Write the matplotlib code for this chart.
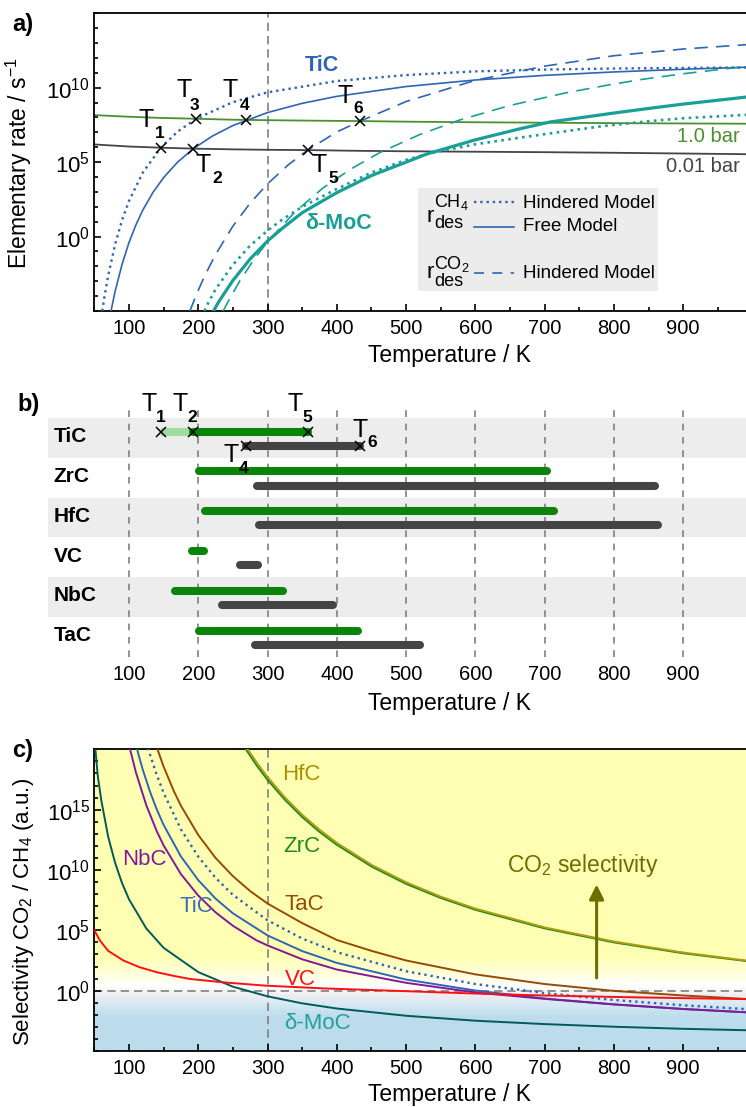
import matplotlib
matplotlib.use('Agg')
import matplotlib.pyplot as plt
import numpy as np
from matplotlib.colors import LinearSegmentedColormap
from matplotlib.ticker import FixedLocator, NullFormatter

plt.rcParams['font.family'] = ['Liberation Sans', 'DejaVu Sans']
plt.rcParams['mathtext.fontset'] = 'custom'
plt.rcParams['mathtext.rm'] = 'Liberation Sans'
plt.rcParams['mathtext.it'] = 'Liberation Sans:italic'
plt.rcParams['mathtext.bf'] = 'Liberation Sans:bold'
plt.rcParams['axes.linewidth'] = 1.3

# ---------------- panel a: elementary rates (log10 values) ----------------
gas_T = [50, 100, 146, 193, 250, 300, 358, 433, 500, 600, 700, 800, 900, 1000]
ads_1bar = [8.16, 8.05, 7.97, 7.92, 7.85, 7.82, 7.79, 7.76, 7.72, 7.68, 7.65, 7.62, 7.60, 7.58]
ads_001bar = [6.19, 6.05, 5.97, 5.91, 5.86, 5.83, 5.81, 5.76, 5.73, 5.70, 5.67, 5.63, 5.58, 5.53]

tic_free_T = [74, 80, 90, 100, 110, 120, 135, 150, 170, 193, 220, 250, 300, 350, 400, 500, 600, 700, 800, 900, 1000]
tic_free = [-5.02, -3.69, -1.87, -0.41, 0.78, 1.78, 2.99, 3.96, 4.99, 5.91, 6.74, 7.46, 8.33, 8.95, 9.42,
            10.08, 10.52, 10.83, 11.06, 11.24, 11.39]
tic_hind_T = [61.5, 65, 70, 80, 90, 100, 120, 146, 170, 197, 250, 300, 400, 500, 600, 700, 800, 900, 1000]
tic_hind = [-5.0, -3.94, -2.64, -0.53, 1.10, 2.39, 4.30, 5.97, 7.04, 7.92, 9.03, 9.69, 10.45, 10.85, 11.10,
            11.22, 11.29, 11.33, 11.36]
tic_co2_T = [188, 195, 200, 210, 225, 250, 275, 300, 330, 358, 400, 434, 500, 600, 700, 800, 900, 1000]
tic_co2 = [-5.0, -4.17, -3.61, -2.58, -1.21, 0.70, 2.25, 3.54, 4.82, 5.81, 7.03, 7.76, 9.07, 10.5, 11.45,
           12.15, 12.6, 12.92]

moc_free_T = [222, 230, 250, 275, 300, 320, 350, 400, 450, 500, 530, 600, 665, 708, 800, 852, 900, 1000]
moc_free = [-5.0, -4.35, -2.95, -1.5, -0.3, 0.5, 1.6, 2.95, 4.1, 5.0, 5.55, 6.5, 7.25, 7.7, 8.3, 8.62, 8.9, 9.42]
moc_hind_T = [209, 215, 225, 250, 275, 300, 320, 350, 400, 450, 500, 535, 600, 665, 700, 780, 850, 900, 1000]
moc_hind = [-5.0, -4.4, -3.55, -1.9, -0.6, 0.4, 1.1, 2.0, 3.2, 4.3, 5.15, 5.6, 6.2, 6.65, 6.88, 7.4, 7.75,
            7.95, 8.2]
moc_co2_T = [236, 245, 260, 280, 300, 340, 380, 420, 462, 520, 578, 650, 732, 800, 842, 900, 1000]
moc_co2 = [-5.0, -4.2, -2.98, -1.57, -0.35, 1.67, 3.26, 4.53, 5.64, 6.86, 7.84, 8.81, 9.67, 10.25, 10.57,
           10.94, 11.48]

cross_T = [146, 193, 197, 269, 358, 433]
cross_rate = [5.97, 5.91, 7.92, 7.84, 5.81, 7.76]
cross_name = ['1', '2', '3', '4', '5', '6']

# ---------------- panel b: temperature windows ----------------
carbides = ['TiC', 'ZrC', 'HfC', 'VC', 'NbC', 'TaC']
co2_start = [193, 201, 210, 191, 166, 201]
co2_end = [358, 703, 713, 208, 323, 430]
ch4_start = [269, 285, 287, 261, 234, 282]
ch4_end = [433, 859, 864, 286, 394, 520]
tic_weak_start = 146
tic_weak_end = 193

# ---------------- panel c: selectivity CO2/CH4 (log10 values) ----------------
hfc_T = [270, 285, 300, 325, 350, 375, 400, 450, 500, 550, 600, 700, 800, 900, 1000]
hfc_sel = [20.12, 18.85, 17.7, 16.02, 14.58, 13.34, 12.25, 10.43, 8.98, 7.79, 6.8, 5.24, 4.07, 3.16, 2.43]
zrc_T = [265, 285, 300, 325, 350, 375, 400, 450, 500, 550, 600, 700, 800, 900, 1000]
zrc_sel = [20.32, 18.61, 17.47, 15.82, 14.39, 13.16, 12.09, 10.29, 8.85, 7.68, 6.7, 5.16, 4.0, 3.1, 2.39]
tac_T = [140, 150, 165, 175, 200, 225, 250, 275, 300, 350, 400, 450, 500, 600, 700, 800, 900, 1000]
tac_sel = [20.19, 18.57, 16.51, 15.33, 12.9, 11.0, 9.49, 8.25, 7.22, 5.6, 4.2, 3.3, 2.5, 1.35, 0.55, -0.02,
           -0.4, -0.72]
tic_T = [110, 115, 120, 130, 140, 150, 175, 200, 225, 250, 300, 350, 400, 500, 600, 700, 800, 900, 1000]
tic_sel = [20.39, 19.31, 18.31, 16.55, 15.04, 13.74, 11.12, 9.16, 7.63, 6.41, 4.58, 3.28, 2.3, 0.92, 0.01,
           -0.65, -1.14, -1.52, -1.82]
tic_hsel_T = [125, 130, 140, 150, 175, 200, 225, 250, 300, 350, 400, 500, 600, 700, 800, 900, 1000]
tic_hsel = [20.61, 19.64, 17.9, 16.39, 13.37, 11.11, 9.35, 7.94, 5.83, 4.32, 3.19, 1.61, 0.55, -0.2, -0.77,
            -1.21, -1.56]
nbc_T = [100, 110, 125, 140, 150, 175, 200, 225, 250, 284, 300, 350, 400, 500, 600, 700, 800, 900, 1000]
nbc_sel = [20.37, 18.1, 15.37, 13.23, 12.04, 9.66, 7.88, 6.49, 5.38, 4.17, 3.75, 2.6, 1.75, 0.65, -0.15,
           -0.68, -1.14, -1.52, -1.82]
moc_T = [50, 55, 60, 70, 80, 90, 100, 125, 150, 200, 250, 300, 350, 400, 500, 600, 700, 800, 900, 1000]
moc_sel = [21.0, 17.8, 15.8, 12.76, 10.6, 8.92, 7.58, 5.16, 3.55, 1.54, 0.33, -0.47, -1.05, -1.48, -2.08,
           -2.49, -2.77, -2.99, -3.16, -3.29]
vc_T = [50, 58, 70, 92, 115, 140, 165, 188, 236, 296, 380, 477, 621, 700, 800, 900, 1000]
vc_sel = [5.0, 4.17, 3.3, 2.5, 1.95, 1.53, 1.22, 0.97, 0.69, 0.42, 0.19, 0.0, -0.28, -0.4, -0.52, -0.62, -0.71]

xticks = [100, 200, 300, 400, 500, 600, 700, 800, 900]

# colours
blue = '#2f65b3'
teal = '#1a9e98'
gas_green = '#4d8f2e'
gas_grey = '#444444'
bar_green = '#0a840a'
bar_grey = '#444444'
dash_grey = '#808080'

W_PX, H_PX = 746, 1107
fig = plt.figure(figsize=(W_PX / 100, H_PX / 100), dpi=100)
left = 94.3 / W_PX
width = 658.2 / W_PX


def lg(v):
    return 10.0 ** np.asarray(v, dtype=float)


def style_log_axis(ax, ylo, yhi, majors):
    ax.set_xlim(50, 1000)
    ax.set_yscale('log')
    ax.set_ylim(10.0 ** ylo, 10.0 ** yhi)
    ax.set_xticks(xticks)
    ax.set_xticks(np.arange(50, 1001, 50), minor=True)
    ax.yaxis.set_major_locator(FixedLocator([10.0 ** m for m in majors]))
    ax.yaxis.set_minor_locator(FixedLocator(10.0 ** np.arange(ylo, yhi + 1)))
    ax.yaxis.set_minor_formatter(NullFormatter())
    ax.tick_params(which='both', direction='in', right=True, top=False, width=1.2)
    ax.tick_params(which='major', length=5)
    ax.tick_params(which='minor', length=3)
    ax.tick_params(axis='x', labelsize=14.5, pad=6)
    ax.tick_params(axis='y', labelsize=16, pad=3)


def t_label(ax, x, y, name, off_t, off_d):
    ax.annotate('T', xy=(x, y), xytext=off_t, textcoords='offset points',
                ha='center', va='center', fontsize=18, zorder=6)
    ax.annotate(name, xy=(x, y), xytext=off_d, textcoords='offset points',
                ha='center', va='center', fontsize=12.5, fontweight='bold', zorder=6)


# ======================= panel a =======================
ax = fig.add_axes([left, 1 - 311 / H_PX, width, 297.7 / H_PX])
style_log_axis(ax, -5, 15, [0, 5, 10])
ax.axvline(300, color=dash_grey, ls=(0, (5, 3)), lw=1.2, zorder=1)

ax.plot(gas_T, lg(ads_1bar), color=gas_green, lw=1.3, zorder=2)
ax.plot(gas_T, lg(ads_001bar), color=gas_grey, lw=1.3, zorder=2)
ax.plot(tic_hind_T, lg(tic_hind), color=blue, lw=1.7, ls=':', zorder=3)
ax.plot(tic_free_T, lg(tic_free), color=blue, lw=1.2, zorder=3)
ax.plot(tic_co2_T, lg(tic_co2), color=blue, lw=1.2, ls=(0, (8, 5)), zorder=3)
ax.plot(moc_hind_T, lg(moc_hind), color=teal, lw=1.9, ls=':', zorder=3)
ax.plot(moc_free_T, lg(moc_free), color=teal, lw=2.3, zorder=3)
ax.plot(moc_co2_T, lg(moc_co2), color=teal, lw=1.2, ls=(0, (8, 5)), zorder=3)

ax.plot(cross_T, lg(cross_rate), 'x', color='k', ms=7, mew=1.1, zorder=5)
offs_a = {'1': ((-10.9, 19.7), (-0.9, 10.3)), '2': ((7.3, -12.0), (17.1, -21.4)),
          '3': ((-8.6, 20.4), (-1.4, 9.6)), '4': ((-11.5, 21.4), (-1.4, 10.6)),
          '5': ((8.1, -11.0), (18.1, -20.4)), '6': ((-10.4, 18.4), (-0.7, 9.4))}
for t, r, n in zip(cross_T, cross_rate, cross_name):
    t_label(ax, t, 10.0 ** r, n, *offs_a[n])

ax.text(378, 10 ** 11.46, 'TiC', color=blue, fontsize=15.5, fontweight='bold', ha='center', va='center')
ax.text(403, 10 ** 0.89, 'δ-MoC', color=teal, fontsize=15.5, fontweight='bold', ha='center', va='center')
ax.text(982, 10 ** 6.7, '1.0 bar', color=gas_green, fontsize=14.5, ha='right', va='center')
ax.text(982, 10 ** 4.68, '0.01 bar', color=gas_grey, fontsize=14.5, ha='right', va='center')

# legend key drawn by hand (grouped by r_des^CH4 / r_des^CO2)
ax.add_patch(plt.Rectangle((0.4922, 0.0672), 0.3647, 0.345, transform=ax.transAxes,
                           facecolor='#ececec', edgecolor='none', zorder=4))
ax.plot([0.5769, 0.6377], [0.3651, 0.3651], transform=ax.transAxes, color=blue, lw=1.7, ls=':', zorder=5)
ax.plot([0.5769, 0.6377], [0.2832, 0.2832], transform=ax.transAxes, color=blue, lw=1.2, zorder=5)
ax.plot([0.5769, 0.6377], [0.1260, 0.1260], transform=ax.transAxes, color=blue, lw=1.2,
        ls=(0, (6, 5)), zorder=5)
for yy, txt in [(0.3618, 'Hindered Model'), (0.2832, 'Free Model'), (0.1243, 'Hindered Model')]:
    ax.text(0.6509, yy, txt, transform=ax.transAxes, fontsize=13.5, va='center', zorder=6)
for yr, ys, yd, sp in [(0.3158, 0.3660, 0.2930, 'CH$_4$'), (0.1293, 0.1580, 0.1000, 'CO$_2$')]:
    ax.text(0.504, yr, 'r', transform=ax.transAxes, fontsize=16, va='center', zorder=6)
    ax.text(0.5161, ys, sp, transform=ax.transAxes, fontsize=13, va='center', zorder=6)
    ax.text(0.5161, yd, 'des', transform=ax.transAxes, fontsize=13, va='center', zorder=6)

ax.set_xlabel('Temperature / K', fontsize=16.5)
ax.xaxis.set_label_coords(0.539, -0.112)
ax.xaxis.label.set_va('top')
ax.set_ylabel('Elementary rate / s$^{-1}$', fontsize=16.5)
ax.yaxis.set_label_coords(-0.092, 0.495)

# ======================= panel b =======================
axb = fig.add_axes([left, 1 - 657 / H_PX, width, 250 / H_PX])
axb.set_xlim(50, 1000)
axb.set_ylim(6.005, -0.276)
for s in axb.spines.values():
    s.set_visible(False)
axb.set_yticks([])
axb.set_xticks(xticks)
axb.tick_params(axis='x', length=0, labelsize=14.5, pad=6)
for i in (0, 2, 4):
    axb.axhspan(i, i + 1, xmin=-0.071, xmax=1.0, color='#ededed', zorder=0, clip_on=False, lw=0)
for x in xticks:
    axb.axvline(x, color=dash_grey, ls=(0, (4, 4)), lw=1.2, zorder=1)

ytr = axb.get_yaxis_transform()
for i, name in enumerate(carbides):
    axb.text(-0.0619, i + 0.47, name, transform=ytr, fontsize=15, fontweight='bold', va='center', ha='left')
    axb.plot([co2_start[i], co2_end[i]], [i + 0.344] * 2, color=bar_green, lw=5.8,
             solid_capstyle='round', zorder=3)
    axb.plot([ch4_start[i], ch4_end[i]], [i + 0.70] * 2, color=bar_grey, lw=5.8,
             solid_capstyle='round', zorder=3)
axb.plot([tic_weak_start, tic_weak_end], [0.344] * 2, color='#9fdc9f', lw=5.8, solid_capstyle='butt', zorder=2)
axb.plot([tic_weak_start, co2_start[0], co2_end[0]], [0.344] * 3, 'x', color='k', ms=7, mew=1.1, zorder=5)
axb.plot([ch4_start[0], ch4_end[0]], [0.70] * 2, 'x', color='k', ms=7, mew=1.1, zorder=5)
offs_b = {'1': ((-8.5, 19.9), (-0.2, 10.2)), '2': ((-9.5, 19.9), (-0.5, 10.2)),
          '5': ((-9.4, 19.9), (-0.4, 10.2)), '4': ((-10.4, -6.5), (-1.8, -16.2)),
          '6': ((0.6, 11.5), (8.9, 2.2))}
for t, yv, n in [(tic_weak_start, 0.344, '1'), (co2_start[0], 0.344, '2'), (co2_end[0], 0.344, '5'),
                 (ch4_start[0], 0.70, '4'), (ch4_end[0], 0.70, '6')]:
    t_label(axb, t, yv, n, *offs_b[n])
axb.set_xlabel('Temperature / K', fontsize=16.5)
axb.xaxis.set_label_coords(0.539, -0.14)
axb.xaxis.label.set_va('top')

# ======================= panel c =======================
axc = fig.add_axes([left, 1 - 1051 / H_PX, width, 301.7 / H_PX])
bg_log = [-5, -2.2, -1.2, -0.5, 0.3, 1.5, 2.8, 20]
bg_col = ['#bcdcec', '#bcdcec', '#d6e9f3', '#ececf0', '#ffffff', '#ffffd8', '#ffffb4', '#ffffb4']
cmap = LinearSegmentedColormap.from_list('bg', list(zip((np.array(bg_log) + 5) / 25.0, bg_col)))
axc.imshow(np.linspace(0, 1, 600).reshape(-1, 1), cmap=cmap, extent=[0, 1, 0, 1],
           transform=axc.transAxes, aspect='auto', origin='lower', zorder=0)
style_log_axis(axc, -5, 20, [0, 5, 10, 15])
axc.axvline(300, color=dash_grey, ls=(0, (5, 3)), lw=1.2, zorder=1)
axc.axhline(1, color=dash_grey, ls=(0, (5, 3)), lw=1.2, zorder=1)

curves = [(zrc_T, zrc_sel, '#1c8c1c', '-'), (hfc_T, hfc_sel, '#b09a10', '-'),
          (tac_T, tac_sel, '#964b00', '-'), (tic_hsel_T, tic_hsel, blue, ':'),
          (tic_T, tic_sel, blue, '-'), (nbc_T, nbc_sel, '#84189a', '-'),
          (moc_T, moc_sel, '#005a5a', '-'), (vc_T, vc_sel, '#ff1010', '-')]
for tt, vv, c, ls in curves:
    axc.plot(tt, lg(vv), color=c, lw=1.7 if ls == ':' else 1.4, ls=ls, zorder=3)

for x, y, txt, c in [(349, 17.9, 'HfC', '#a89000'), (350, 11.94, 'ZrC', '#1c8c1c'),
                     (122.5, 10.9, 'NbC', '#84189a'), (198, 7.0, 'TiC', '#3c6cb4'),
                     (353, 7.17, 'TaC', '#964b00'), (347, 0.92, 'VC', '#ff1010'),
                     (372, -2.7, 'δ-MoC', '#22a0a0')]:
    axc.text(x, 10.0 ** y, txt, color=c, fontsize=16, ha='center', va='center', zorder=6)
axc.text(755, 10 ** 10.4, 'CO$_2$ selectivity', color='#6e6e00', fontsize=16.5, ha='center', va='center')
axc.annotate('', xy=(775, 10 ** 9.03), xytext=(775, 10 ** 0.83),
             arrowprops=dict(arrowstyle='-|>', color='#6e6e00', lw=2.2, mutation_scale=22))
axc.set_xlim(50, 1000)
axc.set_ylim(1e-5, 1e20)
axc.set_xlabel('Temperature / K', fontsize=16.5)
axc.xaxis.set_label_coords(0.539, -0.105)
axc.xaxis.label.set_va('top')
axc.set_ylabel('Selectivity CO$_2$ / CH$_4$ (a.u.)', fontsize=16)
axc.yaxis.set_label_coords(-0.088, 0.46)

# panel letters
fig.text(12 / W_PX, 1 - 25 / H_PX, 'a)', fontsize=17, fontweight='bold', va='center')
fig.text(17 / W_PX, 1 - 404 / H_PX, 'b)', fontsize=17, fontweight='bold', va='center')
fig.text(12 / W_PX, 1 - 750 / H_PX, 'c)', fontsize=17, fontweight='bold', va='center')

fig.savefig('out.png', dpi=100)
